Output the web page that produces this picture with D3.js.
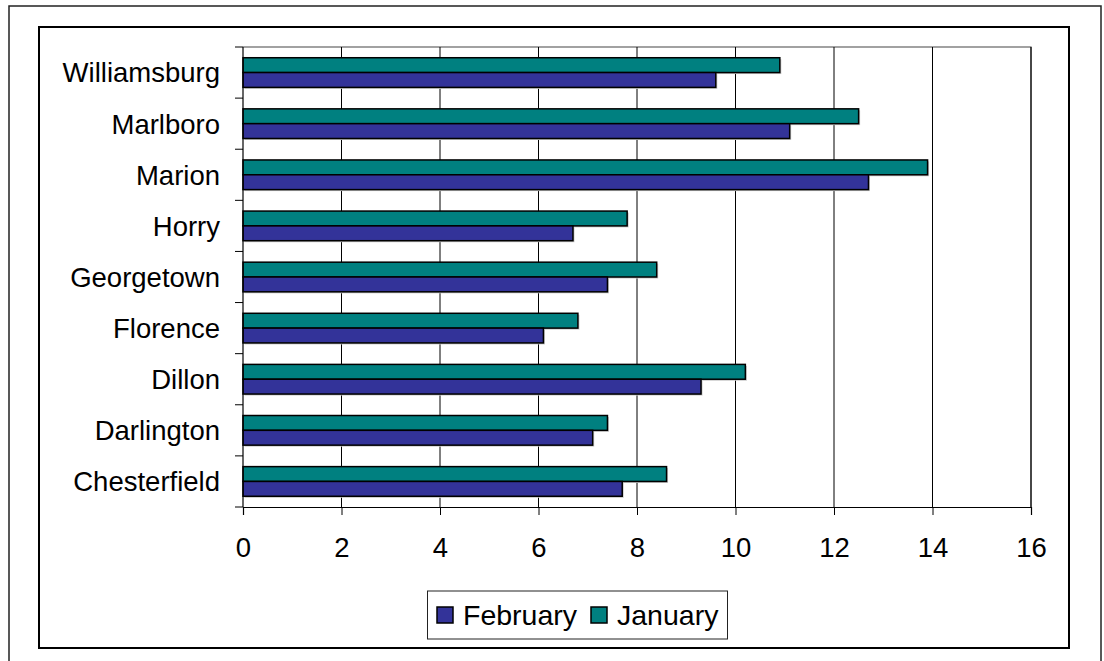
<!DOCTYPE html>
<meta charset="utf-8">
<script src="https://d3js.org/d3.v7.min.js"></script>
<style>
  body { margin: 0; background: #fff; }
  svg text { font-family: "Liberation Sans", Arial, sans-serif; fill: #000; }
</style>
<div id="chart"></div>
<script>
// counties, top to bottom as drawn
const counties = ["Williamsburg", "Marlboro", "Marion", "Horry", "Georgetown",
                  "Florence", "Dillon", "Darlington", "Chesterfield"];
const january  = [10.9, 12.5, 13.9, 7.8, 8.4, 6.8, 10.2, 7.4, 8.6];
const february = [9.6, 11.1, 12.7, 6.7, 7.4, 6.1, 9.3, 7.1, 7.7];
const xTicks = [0, 2, 4, 6, 8, 10, 12, 14, 16];
const seriesNames = ["January", "February"];
const legendNames = ["February", "January"];

const colors = {January: "#008080", February: "#333399"};

const W = 1104, H = 661;
const plot = {left: 243, top: 47, right: 1031, bottom: 507};

const svg = d3.select("#chart").append("svg")
  .attr("width", W).attr("height", H);

// outer and inner frames
svg.append("rect").attr("x", 9).attr("y", 6).attr("width", 1092).attr("height", 700)
  .attr("fill", "none").attr("stroke", "#222").attr("stroke-width", 1.5);
svg.append("rect").attr("x", 39).attr("y", 27).attr("width", 1030).attr("height", 621)
  .attr("fill", "#fff").attr("stroke", "#000").attr("stroke-width", 2);

const x = d3.scaleLinear().domain([0, 16]).range([plot.left, plot.right]);
const y = d3.scaleBand().domain(counties).range([plot.top, plot.bottom])
  .paddingInner(0.42).paddingOuter(0.21);
const sub = d3.scaleBand().domain(seriesNames).range([0, y.bandwidth()]);

// plot area border (top/right)
svg.append("path")
  .attr("d", `M${plot.left},${plot.top}H${plot.right}V${plot.bottom}`)
  .attr("fill", "none").attr("stroke", "#444").attr("stroke-width", 1.2);

// vertical gridlines
svg.append("g").selectAll("line").data(xTicks.slice(1)).join("line")
  .attr("x1", d => x(d)).attr("x2", d => x(d))
  .attr("y1", plot.top).attr("y2", plot.bottom)
  .attr("stroke", "#000").attr("stroke-width", 1);

// bars
const rows = counties.map((c, i) => ({county: c, January: january[i], February: february[i]}));
const groups = svg.append("g").selectAll("g").data(rows).join("g")
  .attr("transform", d => `translate(0,${y(d.county)})`);

seriesNames.forEach(s => {
  groups.append("rect")
    .attr("x", x(0) + 1.5).attr("y", sub(s) + 1.5)
    .attr("width", d => x(d[s]) - x(0)).attr("height", sub.bandwidth())
    .attr("fill", "#c8c8c8");
  groups.append("rect")
    .attr("x", x(0)).attr("y", sub(s))
    .attr("width", d => x(d[s]) - x(0)).attr("height", sub.bandwidth())
    .attr("fill", colors[s]).attr("stroke", "#000").attr("stroke-width", 1.5);
});

// x axis
const xAxis = svg.append("g")
  .attr("transform", `translate(0,${plot.bottom})`)
  .call(d3.axisBottom(x).tickValues(xTicks).tickSize(8).tickPadding(22).tickFormat(d3.format("d")));
xAxis.select(".domain").attr("stroke", "#000").attr("stroke-width", 1.2);
xAxis.selectAll(".tick line").attr("stroke", "#000");
xAxis.selectAll("text").style("font-size", "27.5px");

// y axis, ticks on band boundaries
const yAxis = svg.append("g").attr("transform", `translate(${plot.left},0)`);
yAxis.append("line").attr("y1", plot.top).attr("y2", plot.bottom)
  .attr("stroke", "#000").attr("stroke-width", 1.2);
const step = y.step();
const bounds = d3.range(counties.length + 1).map(i => plot.top + i * step);
yAxis.selectAll(".bt").data(bounds).join("line").attr("class", "bt")
  .attr("x1", -8).attr("x2", 0).attr("y1", d => d).attr("y2", d => d)
  .attr("stroke", "#000");
yAxis.selectAll(".lbl").data(counties).join("text").attr("class", "lbl")
  .attr("x", -23).attr("y", d => y(d) + y.bandwidth() / 2)
  .attr("dy", "0.36em").attr("text-anchor", "end")
  .style("font-size", "27.5px")
  .text(d => d);

// legend
const legend = svg.append("g");
legend.append("rect").attr("x", 427.5).attr("y", 591).attr("width", 300).attr("height", 48)
  .attr("fill", "#fff").attr("stroke", "#222").attr("stroke-width", 1);
const legendX = [437, 591];
legendNames.forEach((n, i) => {
  legend.append("rect").attr("x", legendX[i]).attr("y", 607).attr("width", 16).attr("height", 16)
    .attr("fill", colors[n]).attr("stroke", "#000").attr("stroke-width", 1.5);
  legend.append("text").attr("x", legendX[i] + 26).attr("y", 615).attr("dy", "0.36em")
    .style("font-size", "28.5px").text(n);
});
</script>
